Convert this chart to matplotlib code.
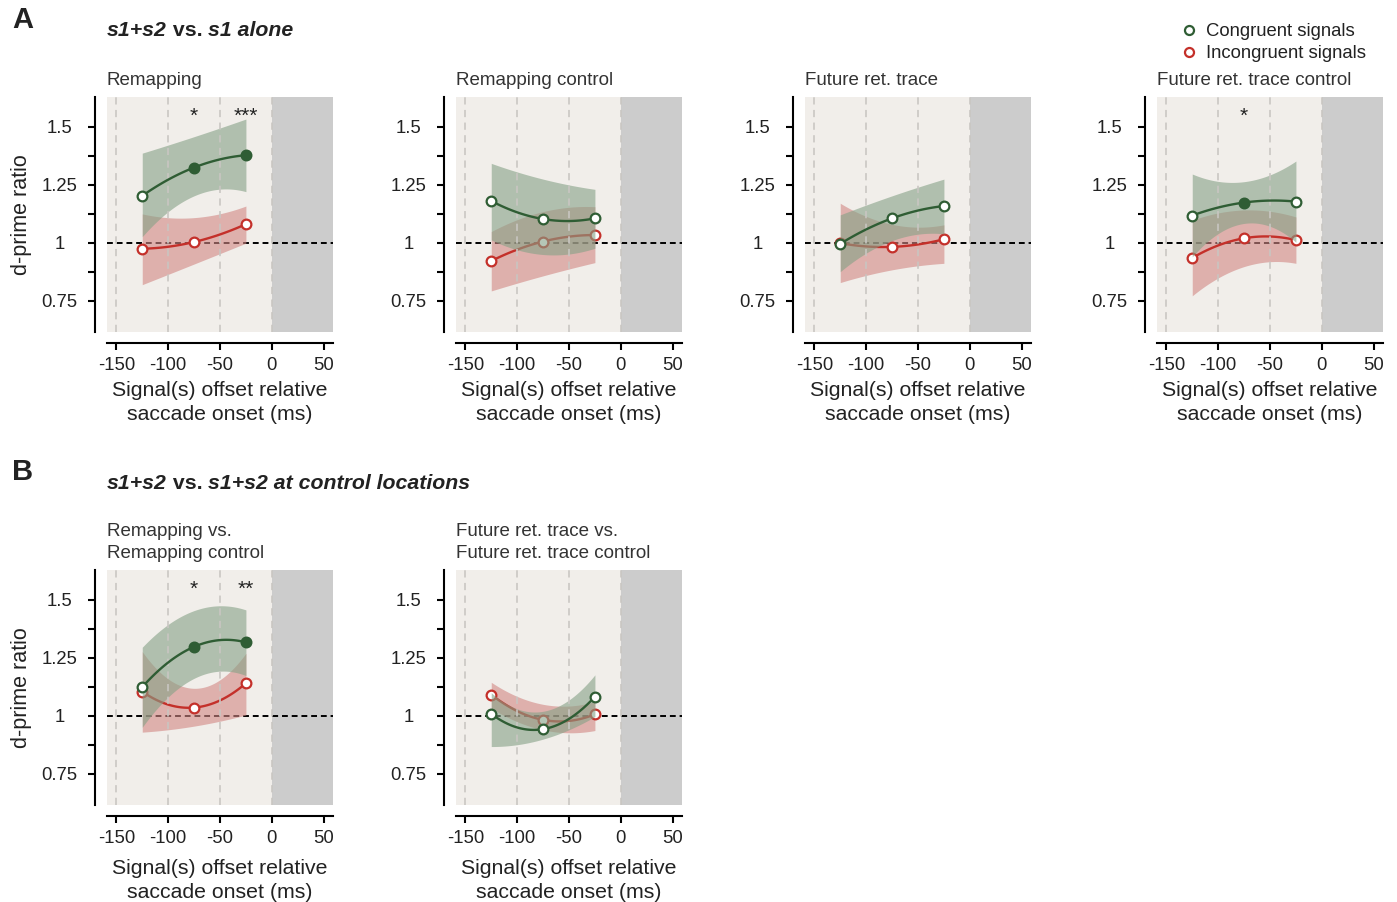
import numpy as np
import matplotlib
matplotlib.use('Agg')
import matplotlib.pyplot as plt
from matplotlib.lines import Line2D

plt.rcParams['font.family'] = ['Liberation Sans', 'DejaVu Sans']

W, H = 1397, 902

# ---------------- data ----------------
x_ms = [-125, -75, -25]
xticks = [-150, -100, -50, 0, 50]
xtick_labels = ['-150', '-100', '-50', '0', '50']
yticks = [0.75, 0.875, 1.0, 1.125, 1.25, 1.375, 1.5]
ytick_labels = ['0.75', '', '1', '', '1.25', '', '1.5']

# A1 Remapping
remap_cong = [1.203, 1.325, 1.378]
remap_cong_lo = [1.027, 1.203, 1.221]
remap_cong_hi = [1.387, 1.458, 1.534]
remap_incong = [0.975, 1.004, 1.081]
remap_incong_lo = [0.820, 0.909, 0.999]
remap_incong_hi = [1.125, 1.109, 1.159]
remap_cong_sig = [False, True, True]
remap_stars = ['', '*', '***']

# A2 Remapping control
rctrl_cong = [1.181, 1.103, 1.106]
rctrl_cong_lo = [1.013, 0.950, 0.977]
rctrl_cong_hi = [1.343, 1.275, 1.231]
rctrl_incong = [0.922, 1.006, 1.034]
rctrl_incong_lo = [0.793, 0.858, 0.915]
rctrl_incong_hi = [1.049, 1.135, 1.156]
rctrl_cong_sig = [False, False, False]
rctrl_stars = ['', '', '']

# A3 Future ret. trace
frt_cong = [0.996, 1.106, 1.159]
frt_cong_lo = [0.876, 1.010, 1.039]
frt_cong_hi = [1.121, 1.203, 1.275]
frt_incong = [0.999, 0.983, 1.016]
frt_incong_lo = [0.829, 0.884, 0.912]
frt_incong_hi = [1.171, 1.080, 1.078]
frt_cong_sig = [False, False, False]
frt_stars = ['', '', '']

# A4 Future ret. trace control
fctrl_cong = [1.118, 1.174, 1.178]
fctrl_cong_lo = [0.940, 1.084, 1.003]
fctrl_cong_hi = [1.297, 1.264, 1.353]
fctrl_incong = [0.935, 1.020, 1.012]
fctrl_incong_lo = [0.772, 0.898, 0.912]
fctrl_incong_hi = [1.098, 1.142, 1.112]
fctrl_cong_sig = [False, True, False]
fctrl_stars = ['', '*', '']

# B1 Remapping vs. Remapping control
rvc_cong = [1.124, 1.298, 1.317]
rvc_cong_lo = [0.951, 1.162, 1.174]
rvc_cong_hi = [1.296, 1.454, 1.457]
rvc_incong = [1.105, 1.036, 1.141]
rvc_incong_lo = [0.930, 0.956, 1.004]
rvc_incong_hi = [1.277, 1.119, 1.270]
rvc_cong_sig = [False, True, True]
rvc_stars = ['', '*', '**']

# B2 Future ret. trace vs. Future ret. trace control
fvc_cong = [1.009, 0.943, 1.083]
fvc_cong_lo = [0.868, 0.900, 0.997]
fvc_cong_hi = [1.100, 1.020, 1.177]
fvc_incong = [1.092, 0.983, 1.007]
fvc_incong_lo = [1.033, 0.940, 0.937]
fvc_incong_hi = [1.145, 1.050, 1.062]
fvc_cong_sig = [False, False, False]
fvc_stars = ['', '', '']

titles = ['Remapping', 'Remapping control', 'Future ret. trace',
          'Future ret. trace control',
          'Remapping vs.\nRemapping control',
          'Future ret. trace vs.\nFuture ret. trace control']
legend_labels = ['Congruent signals', 'Incongruent signals']
xlabel_text = 'Signal(s) offset relative\nsaccade onset (ms)'
ylabel_text = 'd-prime ratio'

panels = [
    (remap_cong, remap_cong_lo, remap_cong_hi, remap_incong, remap_incong_lo, remap_incong_hi, remap_cong_sig, remap_stars),
    (rctrl_cong, rctrl_cong_lo, rctrl_cong_hi, rctrl_incong, rctrl_incong_lo, rctrl_incong_hi, rctrl_cong_sig, rctrl_stars),
    (frt_cong, frt_cong_lo, frt_cong_hi, frt_incong, frt_incong_lo, frt_incong_hi, frt_cong_sig, frt_stars),
    (fctrl_cong, fctrl_cong_lo, fctrl_cong_hi, fctrl_incong, fctrl_incong_lo, fctrl_incong_hi, fctrl_cong_sig, fctrl_stars),
    (rvc_cong, rvc_cong_lo, rvc_cong_hi, rvc_incong, rvc_incong_lo, rvc_incong_hi, rvc_cong_sig, rvc_stars),
    (fvc_cong, fvc_cong_lo, fvc_cong_hi, fvc_incong, fvc_incong_lo, fvc_incong_hi, fvc_cong_sig, fvc_stars),
]

# ---------------- style ----------------
GREEN = '#2f5d34'
RED = '#c4302a'
GREEN_BAND = '#85a186'
RED_BAND = '#d28784'
BEIGE = '#f1eeea'
GRAY = '#cccccc'
VLINE = '#c9c6c2'
TXT = '#222222'
XLIM = (-159, 59)
YLIM = (0.616, 1.629)
STAR_Y = 1.545

fig = plt.figure(figsize=(W / 100, H / 100), dpi=100)

AX_W, AX_H = 226, 235
positions = [(107, 97), (456, 97), (805, 97), (1157, 97), (107, 570), (456, 570)]


def smooth(xs, ys, n=120):
    c = np.polyfit(xs, ys, 2)
    xx = np.linspace(min(xs), max(xs), n)
    return xx, np.polyval(c, xx)


for i, ((left, top), data, title) in enumerate(zip(positions, panels, titles)):
    g, glo, ghi, r, rlo, rhi, gsig, stars = data
    ax = fig.add_axes([left / W, 1 - (top + AX_H) / H, AX_W / W, AX_H / H])
    ax.set_facecolor('none')
    ax.set_xlim(*XLIM)
    ax.set_ylim(*YLIM)
    ax.axvspan(XLIM[0], 0, color=BEIGE, zorder=0, lw=0)
    ax.axvspan(0, XLIM[1], color=GRAY, zorder=0, lw=0)
    for xv in [-150, -100, -50, 0]:
        ax.axvline(xv, color=VLINE, lw=1.3, ls=(0, (4, 3)), zorder=4.5, alpha=0.9)
    ax.axhline(1.0, color='black', lw=1.4, ls=(0, (3, 2)), zorder=1)

    # incongruent
    xx, lo = smooth(x_ms, rlo)
    _, hi = smooth(x_ms, rhi)
    ax.fill_between(xx, lo, hi, color=RED_BAND, alpha=0.6, lw=0, zorder=2)
    _, yy = smooth(x_ms, r)
    ax.plot(xx, yy, color=RED, lw=1.7, zorder=3)
    ax.plot(x_ms, r, 'o', ms=7, mew=1.6, mec=RED, mfc='white', zorder=3.5)

    # congruent
    xx, lo = smooth(x_ms, glo)
    _, hi = smooth(x_ms, ghi)
    ax.fill_between(xx, lo, hi, color=GREEN_BAND, alpha=0.6, lw=0, zorder=4)
    _, yy = smooth(x_ms, g)
    ax.plot(xx, yy, color=GREEN, lw=1.7, zorder=5)
    for xv, yv, s in zip(x_ms, g, gsig):
        ax.plot([xv], [yv], 'o', ms=7, mew=1.6, mec=GREEN,
                mfc=GREEN if s else 'white', zorder=6)

    for xv, st in zip(x_ms, stars):
        if st:
            ax.text(xv, STAR_Y, st, ha='center', va='center', fontsize=15,
                    color=TXT, zorder=7)

    for sp in ['top', 'right']:
        ax.spines[sp].set_visible(False)
    ax.spines['left'].set_position(('outward', 9))
    ax.spines['bottom'].set_position(('outward', 8))
    ax.spines['left'].set_linewidth(1.5)
    ax.spines['bottom'].set_linewidth(1.5)

    ax.set_xticks(xticks)
    ax.set_xticklabels(xtick_labels)
    ax.set_yticks(yticks)
    ax.set_yticklabels(ytick_labels)
    ax.tick_params(axis='both', direction='out', length=5, width=1.5,
                   labelsize=13.3, colors='black', labelcolor=TXT)
    ax.tick_params(axis='y', pad=20)
    ax.tick_params(axis='x', pad=5)
    for lab in ax.get_yticklabels():
        lab.set_ha('center')

    ax.set_xlabel(xlabel_text, fontsize=15.3, linespacing=1.35, color=TXT)
    xl_off = 381 - 332 if top < 300 else 386 - 332
    ax.xaxis.set_label_coords(0.5, -xl_off / AX_H)
    if i in (0, 4):
        ax.set_ylabel(ylabel_text, fontsize=15.5, color=TXT)
        ax.yaxis.set_label_coords((32 - left) / AX_W, 0.5)

    ax.annotate(title, xy=(0, 1), xycoords='axes fraction', xytext=(0, 8),
                textcoords='offset pixels', ha='left', va='bottom',
                fontsize=13.5, color='#333333', linespacing=1.38)

# panel letters
fig.text(12 / W, 1 - 20 / H, 'A', fontsize=21, fontweight='bold', va='center', ha='left', color=TXT)
fig.text(12 / W, 1 - 472 / H, 'B', fontsize=21, fontweight='bold', va='center', ha='left', color=TXT)

# mixed-style headings
renderer = fig.canvas.get_renderer()


def heading(x_px, y_px, parts):
    x = x_px
    for txt, style in parts:
        t = fig.text(x / W, 1 - y_px / H, txt, fontsize=15.3, fontweight='bold',
                     fontstyle=style, va='center', ha='left', color=TXT)
        bb = t.get_window_extent(renderer=renderer)
        x += bb.width


heading(107, 31, [('s1+s2', 'italic'), (' vs. ', 'normal'), ('s1 alone', 'italic')])
heading(107, 483, [('s1+s2', 'italic'), (' vs. ', 'normal'),
                   ('s1+s2 at control locations', 'italic')])

# legend
for k, (lab, col) in enumerate(zip(legend_labels, [GREEN, RED])):
    yk = 30 + 22 * k
    fig.add_artist(Line2D([1189 / W], [1 - yk / H], marker='o', ms=6.5, mew=1.6,
                          mec=col, mfc='white', transform=fig.transFigure, ls='none'))
    fig.text(1206 / W, 1 - (yk + 2) / H, lab, fontsize=13.3, va='center', ha='left',
             color=TXT)

fig.savefig('out.png', dpi=100)
